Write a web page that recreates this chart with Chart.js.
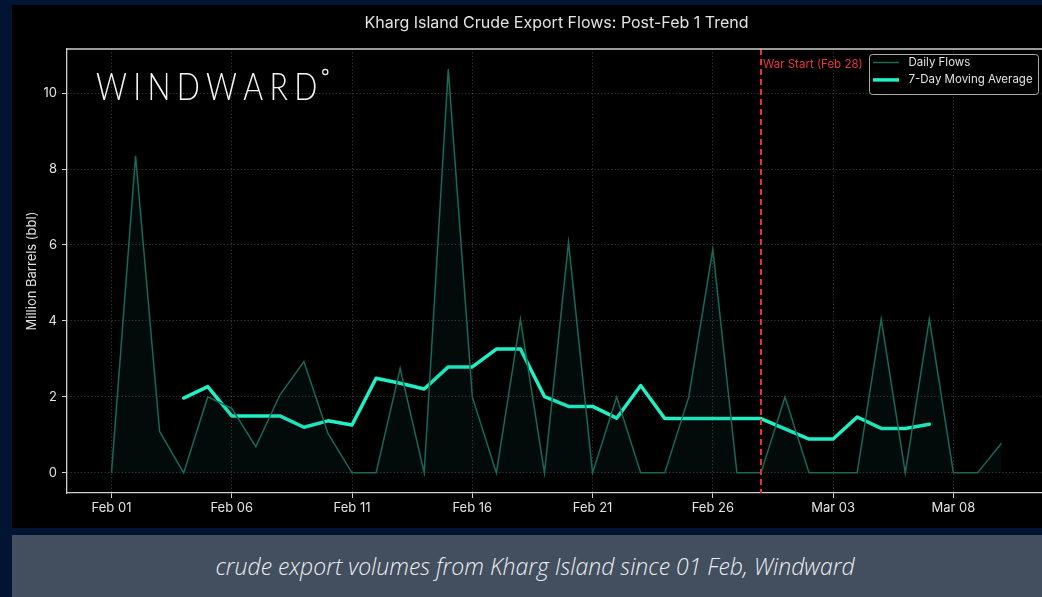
<!DOCTYPE html>
<html>
<head>
<meta charset="utf-8">
<script src="https://cdn.jsdelivr.net/npm/chart.js@4.4.1/dist/chart.umd.min.js"></script>
<style>
    html, body { margin: 0; padding: 0; width: 1042px; height: 597px; overflow: hidden; background: #011431; }
    #panel { position: absolute; left: 12px; top: 5px; width: 1030px; height: 523px; background: #000; overflow: hidden; }
    #panel canvas { position: absolute; left: 0; top: 0; }
    #caption {
        position: absolute; left: 12px; top: 535px; width: 1014px; height: 62px; padding-left: 16px;
        background: #434e5f; color: #eceef1; text-align: center;
        font: italic 300 23px 'Open Sans', sans-serif;
        line-height: 62px;
    }
</style>
</head>
<body>
<div id="panel"><canvas id="flows-chart" width="1040" height="523"></canvas></div>
<div id="caption">crude export volumes from Kharg Island since 01 Feb, Windward</div>
<script>
// data (million barrels per day)
const dates = [
    'Feb 01', 'Feb 02', 'Feb 03', 'Feb 04', 'Feb 05', 'Feb 06', 'Feb 07', 'Feb 08', 'Feb 09', 'Feb 10',
    'Feb 11', 'Feb 12', 'Feb 13', 'Feb 14', 'Feb 15', 'Feb 16', 'Feb 17', 'Feb 18', 'Feb 19', 'Feb 20',
    'Feb 21', 'Feb 22', 'Feb 23', 'Feb 24', 'Feb 25', 'Feb 26', 'Feb 27', 'Feb 28',
    'Mar 01', 'Mar 02', 'Mar 03', 'Mar 04', 'Mar 05', 'Mar 06', 'Mar 07', 'Mar 08', 'Mar 09', 'Mar 10'
];
const dailyFlows = [
    0, 8.35, 1.09, 0, 2.0, 1.70, 0.69, 2.05, 2.93, 1.04,
    0, 0, 2.75, 0, 10.63, 2.0, 0, 4.05, 0, 6.07,
    0, 2.0, 0, 0, 2.0, 5.89, 0, 0,
    2.0, 0, 0, 0, 4.05, 0, 4.05, 0, 0, 0.78
];
const movingAvg = [
    null, null, null, 1.97, 2.27, 1.50, 1.50, 1.50, 1.20, 1.37,
    1.26, 2.49, 2.36, 2.21, 2.79, 2.79, 3.26, 3.26, 2.01, 1.75,
    1.75, 1.44, 2.30, 1.43, 1.43, 1.43, 1.43, 1.43,
    1.16, 0.89, 0.89, 1.47, 1.17, 1.17, 1.28, null, null, null
];
const xTickLabels = ['Feb 01', 'Feb 06', 'Feb 11', 'Feb 16', 'Feb 21', 'Feb 26', 'Mar 03', 'Mar 08'];
const yTicks = [0, 2, 4, 6, 8, 10];
const warStart = 'Feb 28';
const warLabel = 'War Start (Feb 28)';
const chartTitle = 'Kharg Island Crude Export Flows: Post-Feb 1 Trend';
const yTitle = 'Million Barrels (bbl)';

const FONT = 'Inter, "Noto Sans", sans-serif';
const DAILY_COLOR = '#166a56';
const MA_COLOR = '#1ff0c6';
const TEXT_COLOR = '#e2e2e2';
const AXIS_COLOR = '#cfcfcf';

const toPoints = arr => arr.map((v, i) => ({ x: i, y: v }));

// title, watermark, war marker, frame and legend drawn on top of chart
const decorations = {
    id: 'decorations',
    afterDraw(chart) {
        const { ctx, chartArea: a, scales } = chart;
        ctx.save();

        // title centred over the plot area
        ctx.fillStyle = TEXT_COLOR;
        ctx.font = '16px ' + FONT;
        ctx.textAlign = 'center';
        ctx.textBaseline = 'middle';
        ctx.fillText(chartTitle, (a.left + a.right) / 2, 18);

        // WINDWARD watermark, narrowed glyphs with wide tracking
        ctx.fillStyle = '#f4f4f4';
        ctx.font = '300 38px Lato, sans-serif';
        ctx.textAlign = 'left';
        ctx.textBaseline = 'alphabetic';
        const word = 'WINDWARD';
        const squeeze = 0.8;
        const plain = ctx.measureText(word).width * squeeze;
        const gap = (220 - plain) / (word.length - 1);
        let lx = a.left + 29;
        for (const ch of word) {
            ctx.save();
            ctx.translate(lx, a.top + 51);
            ctx.scale(squeeze, 1);
            ctx.fillText(ch, 0, 0);
            ctx.restore();
            lx += ctx.measureText(ch).width * squeeze + gap;
        }
        ctx.strokeStyle = '#f4f4f4';
        ctx.lineWidth = 1.2;
        ctx.beginPath();
        ctx.arc(lx - gap + 8, a.top + 23, 2.6, 0, Math.PI * 2);
        ctx.stroke();

        // war start marker
        const wx = scales.x.getPixelForValue(dates.indexOf(warStart));
        ctx.strokeStyle = '#ea3338';
        ctx.lineWidth = 2;
        ctx.setLineDash([6, 4]);
        ctx.beginPath();
        ctx.moveTo(wx, a.top);
        ctx.lineTo(wx, a.bottom);
        ctx.stroke();
        ctx.setLineDash([]);
        ctx.fillStyle = '#e8383d';
        ctx.font = '11.5px ' + FONT;
        ctx.textBaseline = 'middle';
        ctx.fillText(warLabel, wx + 2, a.top + 16);

        // top and right spines
        ctx.strokeStyle = AXIS_COLOR;
        ctx.lineWidth = 1.3;
        ctx.beginPath();
        ctx.moveTo(a.left, a.top);
        ctx.lineTo(a.right, a.top);
        ctx.lineTo(a.right, a.bottom);
        ctx.stroke();

        // legend box
        const bw = 169, bh = 40;
        const bx = a.right - 8 - bw, by = a.top + 5;
        ctx.fillStyle = 'rgba(0,0,0,0.8)';
        ctx.strokeStyle = '#a9a9a9';
        ctx.lineWidth = 1;
        ctx.beginPath();
        ctx.roundRect(bx + 0.5, by + 0.5, bw, bh, 3);
        ctx.fill();
        ctx.stroke();
        chart.data.datasets.forEach((ds, i) => {
            const ry = by + 8.5 + i * 17.4;
            ctx.strokeStyle = ds.borderColor;
            ctx.lineWidth = ds.borderWidth;
            ctx.beginPath();
            ctx.moveTo(bx + 4, ry);
            ctx.lineTo(bx + 30, ry);
            ctx.stroke();
            ctx.fillStyle = TEXT_COLOR;
            ctx.font = '11.5px ' + FONT;
            ctx.textAlign = 'left';
            ctx.fillText(ds.label, bx + 39.5, ry);
        });
        ctx.restore();
    }
};

const axisGrid = {
    color: 'rgba(255,255,255,0.28)',
    lineWidth: 0.8,
    tickLength: 5,
    tickColor: AXIS_COLOR,
    tickWidth: 1,
    tickBorderDash: []
};
const axisBorder = { color: AXIS_COLOR, width: 1.3, dash: [1.2, 2.2] };

new Chart(document.getElementById('flows-chart').getContext('2d'), {
    type: 'line',
    data: {
        datasets: [
            {
                label: 'Daily Flows',
                data: toPoints(dailyFlows),
                borderColor: DAILY_COLOR,
                borderWidth: 1.5,
                backgroundColor: 'rgba(22,106,86,0.1)',
                fill: 'origin',
                pointRadius: 0,
                tension: 0
            },
            {
                label: '7-Day Moving Average',
                data: toPoints(movingAvg),
                borderColor: MA_COLOR,
                borderWidth: 3.5,
                fill: false,
                pointRadius: 0,
                tension: 0,
                borderJoinStyle: 'round',
                borderCapStyle: 'round'
            }
        ]
    },
    options: {
        responsive: false,
        animation: false,
        layout: { padding: { top: 44, right: 6, bottom: 0, left: 0 } },
        scales: {
            x: {
                type: 'linear',
                min: -1.85,
                max: 38.85,
                afterBuildTicks: s => { s.ticks = xTickLabels.map(l => ({ value: dates.indexOf(l) })); },
                afterFit: s => { s.height = 35; },
                ticks: {
                    color: TEXT_COLOR,
                    font: { family: FONT, size: 13 },
                    padding: 2,
                    maxRotation: 0,
                    autoSkip: false,
                    callback: v => dates[v]
                },
                grid: axisGrid,
                border: axisBorder
            },
            y: {
                min: -0.53,
                max: 11.16,
                afterBuildTicks: s => { s.ticks = yTicks.map(v => ({ value: v })); },
                afterFit: s => { s.width = 55; },
                ticks: {
                    color: TEXT_COLOR,
                    font: { family: FONT, size: 13 },
                    padding: 5
                },
                grid: axisGrid,
                border: axisBorder,
                title: {
                    display: true,
                    text: yTitle,
                    color: TEXT_COLOR,
                    font: { family: FONT, size: 13 },
                    padding: { top: 12, bottom: 0 }
                }
            }
        },
        plugins: {
            legend: { display: false },
            tooltip: { enabled: false }
        }
    },
    plugins: [decorations]
});
</script>
</body>
</html>
